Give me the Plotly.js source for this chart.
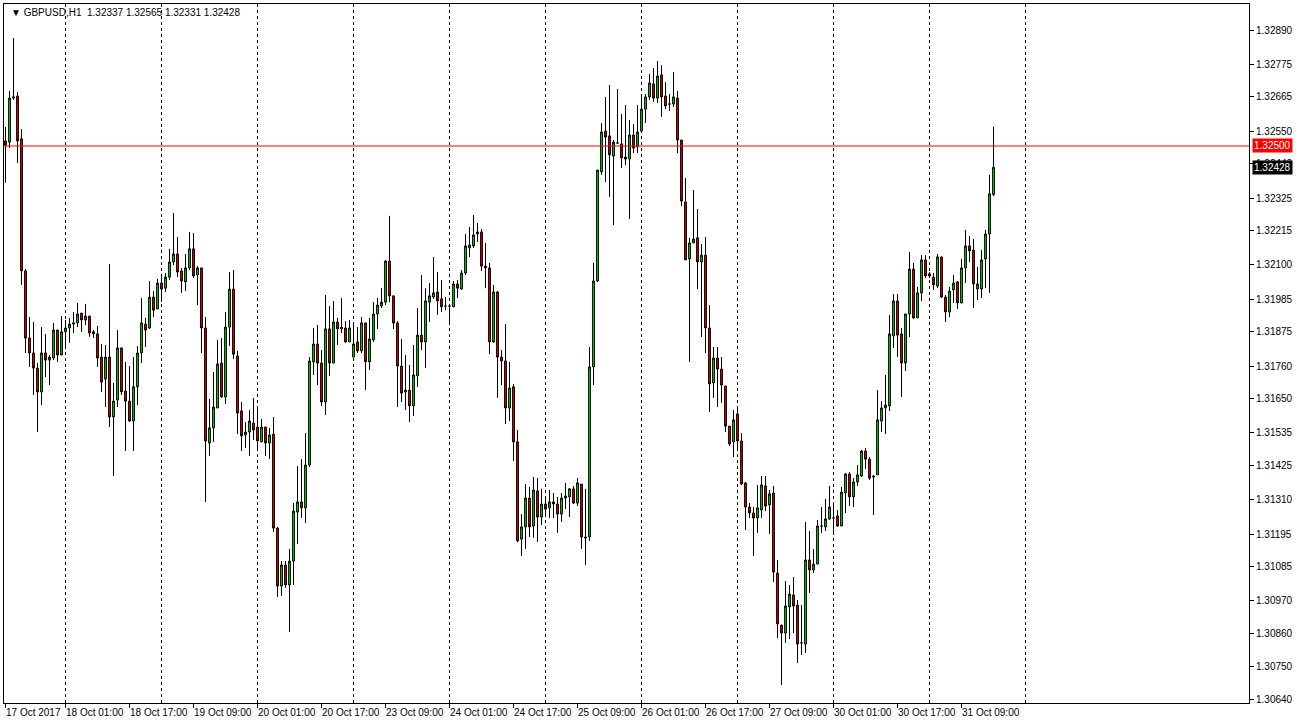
<!DOCTYPE html>
<html><head><meta charset="utf-8">
<script src="https://cdn.plot.ly/plotly-3.0.1.min.js"></script>
<style>html,body{margin:0;padding:0;background:#fff;overflow:hidden}#chart{width:1296px;height:725px}</style>
</head><body><div id="chart"></div>
<script>
const symbol = "GBPUSD,H1";
const open = [1.32517,1.32513,1.32661,1.32668,1.32524,1.32080,1.31854,1.31804,1.31753,1.31673,1.31804,1.31780,1.31787,1.31881,1.31797,1.31875,1.31888,1.31901,1.31905,1.31938,1.31915,1.31928,1.31875,1.31868,1.31790,1.31716,1.31790,1.31589,1.31646,1.31821,1.31676,1.31642,1.31575,1.31690,1.31804,1.31901,1.31888,1.31992,1.31952,1.32039,1.32022,1.32059,1.32110,1.32137,1.32080,1.32043,1.32090,1.32154,1.32066,1.32090,1.31888,1.31501,1.31552,1.31619,1.31770,1.31656,1.31891,1.32019,1.31794,1.31609,1.31528,1.31538,1.31568,1.31555,1.31505,1.31555,1.31501,1.31531,1.31215,1.31020,1.31091,1.31024,1.31104,1.31269,1.31303,1.31283,1.31427,1.31774,1.31834,1.31770,1.31639,1.31885,1.31770,1.31908,1.31885,1.31888,1.31841,1.31790,1.31841,1.31811,1.31905,1.31774,1.31848,1.31935,1.31962,1.31975,1.32113,1.31996,1.31905,1.31760,1.31673,1.31679,1.31626,1.31727,1.31864,1.31841,1.31975,1.31992,1.32009,1.31986,1.31962,1.31962,1.31959,1.32036,1.32019,1.32073,1.32157,1.32164,1.32204,1.32211,1.32096,1.32090,1.31841,1.32009,1.31790,1.31777,1.31619,1.31690,1.31505,1.31178,1.31219,1.31316,1.31222,1.31340,1.31252,1.31296,1.31283,1.31303,1.31296,1.31262,1.31316,1.31320,1.31347,1.31299,1.31363,1.31185,1.31185,1.31757,1.32046,1.32413,1.32550,1.32534,1.32466,1.32510,1.32507,1.32463,1.32456,1.32537,1.32497,1.32550,1.32624,1.32665,1.32709,1.32661,1.32739,1.32668,1.32641,1.32641,1.32661,1.32520,1.32312,1.32120,1.32174,1.32191,1.32110,1.32133,1.31888,1.31703,1.31787,1.31750,1.31693,1.31558,1.31505,1.31599,1.31508,1.31367,1.31286,1.31266,1.31249,1.31276,1.31357,1.31293,1.31333,1.31064,1.30889,1.30862,1.30950,1.30990,1.30956,1.30829,1.30825,1.31108,1.31074,1.31094,1.31222,1.31219,1.31246,1.31249,1.31256,1.31222,1.31333,1.31397,1.31320,1.31370,1.31390,1.31474,1.31447,1.31390,1.31394,1.31575,1.31619,1.31626,1.31861,1.31979,1.31868,1.31770,1.31935,1.32086,1.31922,1.32006,1.32117,1.32070,1.32059,1.32029,1.32127,1.31992,1.31942,1.32016,1.32043,1.31972,1.32090,1.32164,1.32150,1.32019,1.32019,1.32120,1.32204,1.32337];
const high = [1.32564,1.32685,1.32863,1.32682,1.32557,1.32086,1.31925,1.31908,1.31770,1.31891,1.31868,1.31797,1.31905,1.31881,1.31928,1.31915,1.31922,1.31942,1.31972,1.31938,1.31969,1.31928,1.31881,1.31895,1.31834,1.31831,1.32103,1.31703,1.31881,1.31821,1.31774,1.31760,1.31790,1.31827,1.31989,1.31922,1.32046,1.32012,1.32053,1.32070,1.32073,1.32154,1.32275,1.32194,1.32090,1.32137,1.32211,1.32207,1.32096,1.32090,1.31925,1.31649,1.31740,1.31848,1.31854,1.31942,1.32076,1.32083,1.31811,1.31639,1.31572,1.31612,1.31653,1.31626,1.31582,1.31555,1.31552,1.31589,1.31219,1.31104,1.31104,1.31145,1.31299,1.31424,1.31447,1.31535,1.31790,1.31888,1.31898,1.31814,1.31999,1.31962,1.31979,1.31922,1.31989,1.31911,1.31915,1.31908,1.31891,1.31925,1.31905,1.31922,1.31975,1.31989,1.32022,1.32117,1.32265,1.31996,1.31911,1.31851,1.31797,1.31764,1.31831,1.31955,1.32066,1.32022,1.32039,1.32127,1.32076,1.32049,1.31992,1.31969,1.32046,1.32049,1.32083,1.32204,1.32228,1.32268,1.32241,1.32221,1.32174,1.32107,1.32033,1.32012,1.31814,1.31901,1.31774,1.31700,1.31545,1.31262,1.31363,1.31353,1.31387,1.31383,1.31347,1.31323,1.31343,1.31333,1.31320,1.31333,1.31367,1.31350,1.31357,1.31383,1.31363,1.31347,1.31824,1.32107,1.32419,1.32577,1.32665,1.32705,1.32520,1.32692,1.32608,1.32638,1.32587,1.32574,1.32638,1.32672,1.32675,1.32742,1.32762,1.32786,1.32772,1.32715,1.32675,1.32749,1.32685,1.32520,1.32392,1.32191,1.32352,1.32288,1.32170,1.32194,1.31965,1.31824,1.31824,1.31790,1.31693,1.31558,1.31612,1.31626,1.31535,1.31370,1.31299,1.31286,1.31360,1.31390,1.31390,1.31343,1.31357,1.31108,1.30889,1.31037,1.31024,1.31051,1.30973,1.30956,1.31236,1.31205,1.31145,1.31242,1.31286,1.31313,1.31357,1.31299,1.31276,1.31353,1.31400,1.31404,1.31383,1.31427,1.31478,1.31484,1.31454,1.31394,1.31679,1.31642,1.31730,1.31932,1.32002,1.32002,1.31888,1.31935,1.32144,1.32107,1.32026,1.32133,1.32133,1.32076,1.32073,1.32137,1.32127,1.31999,1.32026,1.32066,1.32046,1.32120,1.32218,1.32197,1.32187,1.32093,1.32150,1.32218,1.32403,1.32565];
const low = [1.32376,1.32493,1.32655,1.32443,1.32033,1.31804,1.31757,1.31663,1.31538,1.31629,1.31723,1.31696,1.31780,1.31774,1.31797,1.31821,1.31838,1.31871,1.31891,1.31875,1.31898,1.31858,1.31854,1.31757,1.31673,1.31622,1.31555,1.31390,1.31622,1.31663,1.31474,1.31572,1.31474,1.31629,1.31770,1.31824,1.31885,1.31925,1.31952,1.31975,1.32009,1.32049,1.32100,1.32059,1.32006,1.32012,1.32083,1.32056,1.31965,1.31804,1.31303,1.31458,1.31505,1.31619,1.31653,1.31632,1.31827,1.31784,1.31531,1.31474,1.31484,1.31458,1.31511,1.31474,1.31505,1.31458,1.31447,1.31202,1.30983,1.30987,1.31014,1.30866,1.31024,1.31162,1.31249,1.31232,1.31420,1.31730,1.31696,1.31626,1.31595,1.31727,1.31770,1.31831,1.31871,1.31838,1.31841,1.31790,1.31804,1.31804,1.31679,1.31747,1.31841,1.31885,1.31955,1.31965,1.31975,1.31885,1.31622,1.31639,1.31612,1.31572,1.31592,1.31690,1.31814,1.31753,1.31908,1.31986,1.31932,1.31942,1.31948,1.31901,1.31959,1.31989,1.32016,1.32066,1.32127,1.32157,1.32177,1.32080,1.32022,1.31800,1.31838,1.31653,1.31696,1.31565,1.31575,1.31441,1.31168,1.31121,1.31145,1.31185,1.31182,1.31168,1.31225,1.31252,1.31249,1.31249,1.31199,1.31236,1.31279,1.31252,1.31296,1.31289,1.31145,1.31091,1.31172,1.31696,1.32043,1.32403,1.32379,1.32329,1.32234,1.32507,1.32426,1.32436,1.32254,1.32476,1.32476,1.32544,1.32577,1.32655,1.32648,1.32645,1.32598,1.32624,1.32618,1.32631,1.32476,1.32298,1.32117,1.31774,1.32174,1.32019,1.31858,1.31804,1.31605,1.31653,1.31622,1.31636,1.31538,1.31491,1.31454,1.31474,1.31360,1.31209,1.31249,1.31121,1.31199,1.31249,1.31272,1.31195,1.31034,1.30845,1.30687,1.30829,1.30842,1.30862,1.30761,1.30788,1.30795,1.30997,1.31064,1.31094,1.31199,1.31205,1.31242,1.31192,1.31219,1.31222,1.31266,1.31289,1.31286,1.31357,1.31387,1.31414,1.31377,1.31259,1.31394,1.31538,1.31531,1.31609,1.31821,1.31790,1.31656,1.31743,1.31858,1.31918,1.31922,1.31979,1.32056,1.32056,1.32016,1.32022,1.31989,1.31908,1.31925,1.31972,1.31952,1.31972,1.32039,1.32110,1.31955,1.31982,1.31989,1.32022,1.32006,1.32331];
const close = [1.32503,1.32661,1.32665,1.32517,1.32080,1.31854,1.31804,1.31753,1.31673,1.31804,1.31780,1.31790,1.31881,1.31797,1.31875,1.31888,1.31901,1.31905,1.31935,1.31915,1.31928,1.31871,1.31868,1.31787,1.31706,1.31790,1.31589,1.31642,1.31821,1.31673,1.31642,1.31575,1.31690,1.31804,1.31905,1.31881,1.31992,1.31948,1.32039,1.32019,1.32059,1.32110,1.32137,1.32076,1.32046,1.32090,1.32154,1.32063,1.32090,1.31888,1.31508,1.31552,1.31622,1.31767,1.31656,1.31891,1.32019,1.31800,1.31602,1.31525,1.31538,1.31575,1.31545,1.31508,1.31555,1.31501,1.31528,1.31215,1.31020,1.31091,1.31024,1.31104,1.31272,1.31303,1.31283,1.31427,1.31777,1.31834,1.31770,1.31639,1.31885,1.31770,1.31908,1.31885,1.31891,1.31841,1.31888,1.31834,1.31811,1.31905,1.31774,1.31851,1.31935,1.31965,1.31975,1.32113,1.31996,1.31905,1.31760,1.31669,1.31679,1.31626,1.31730,1.31864,1.31841,1.31979,1.31996,1.32006,1.31979,1.31959,1.31962,1.31962,1.32036,1.32022,1.32073,1.32164,1.32167,1.32201,1.32211,1.32096,1.32090,1.31841,1.32009,1.31790,1.31777,1.31619,1.31686,1.31505,1.31172,1.31219,1.31316,1.31219,1.31343,1.31252,1.31296,1.31279,1.31303,1.31296,1.31262,1.31316,1.31323,1.31347,1.31299,1.31367,1.31185,1.31182,1.31757,1.32046,1.32419,1.32547,1.32530,1.32470,1.32513,1.32510,1.32460,1.32456,1.32537,1.32493,1.32547,1.32624,1.32665,1.32712,1.32661,1.32735,1.32665,1.32635,1.32641,1.32665,1.32520,1.32315,1.32117,1.32174,1.32187,1.32110,1.32133,1.31888,1.31700,1.31787,1.31750,1.31696,1.31558,1.31498,1.31579,1.31508,1.31363,1.31286,1.31266,1.31249,1.31283,1.31360,1.31289,1.31330,1.31067,1.30893,1.30862,1.30953,1.30993,1.30953,1.30825,1.30829,1.31108,1.31074,1.31094,1.31222,1.31222,1.31246,1.31286,1.31249,1.31222,1.31336,1.31397,1.31320,1.31370,1.31394,1.31474,1.31447,1.31383,1.31387,1.31579,1.31619,1.31629,1.31868,1.31979,1.31864,1.31770,1.31935,1.32086,1.31922,1.32006,1.32117,1.32063,1.32063,1.32033,1.32127,1.31992,1.31942,1.32012,1.32039,1.31972,1.32090,1.32164,1.32147,1.32036,1.32036,1.32117,1.32204,1.32339,1.32428];

const timeLabels = ["17 Oct 2017","18 Oct 01:00","18 Oct 17:00","19 Oct 09:00","20 Oct 01:00","20 Oct 17:00","23 Oct 09:00","24 Oct 01:00","24 Oct 17:00","25 Oct 09:00","26 Oct 01:00","26 Oct 17:00","27 Oct 09:00","30 Oct 01:00","30 Oct 17:00","31 Oct 09:00"];
const labelBars = [0,15,31,47,63,79,95,111,127,143,159,175,191,207,223,239];
const separatorBars = [15,39,63,87,111,135,159,183,207,231,255];
const priceTicks = [1.32890,1.32775,1.32665,1.32550,1.32440,1.32325,1.32215,1.32100,1.31985,1.31875,1.31760,1.31650,1.31535,1.31425,1.31310,1.31195,1.31085,1.30970,1.30860,1.30750,1.30640];
const levelLine = 1.32500;

const FONT = "Liberation Sans, Arial, sans-serif";
const bars = open.map((_, i) => i);
const xRange = [-0.375, 310.875];
const last = open.length - 1;

const candles = {
  type: 'candlestick', x: bars, open: open, high: high, low: low, close: close,
  increasing: {line: {color: '#000000', width: 1}, fillcolor: '#00DD00'},
  decreasing: {line: {color: '#000000', width: 1}, fillcolor: '#E60000'},
  whiskerwidth: 0, hoverinfo: 'skip', xaxis: 'x', yaxis: 'y'
};
const labelAxisTrace = {type: 'scatter', x: [], y: [], xaxis: 'x2', yaxis: 'y', hoverinfo: 'skip', showlegend: false};

const fmt = v => v.toFixed(5);
const header = '\u25BC ' + symbol + '\u00a0\u00a0' + [open[last], high[last], low[last], close[last]].map(fmt).join(' ');

const layout = {
  width: 1296, height: 725,
  margin: {l: 4, r: 47, t: 4, b: 22, pad: 0},
  paper_bgcolor: '#ffffff', plot_bgcolor: '#ffffff',
  showlegend: false, hovermode: false, dragmode: false,
  boxgap: 0.35,
  font: {family: FONT, size: 10, color: '#000000'},
  xaxis: {
    range: xRange, fixedrange: true, rangeslider: {visible: false},
    tickmode: 'array', tickvals: separatorBars, showticklabels: false, ticks: '',
    showgrid: true, gridcolor: '#000000', gridwidth: 1, griddash: '3px,3px',
    showline: true, mirror: true, linecolor: '#000000', linewidth: 1, zeroline: false
  },
  xaxis2: {
    overlaying: 'x', anchor: 'y', side: 'bottom', range: xRange, fixedrange: true,
    tickmode: 'array', tickvals: labelBars, ticktext: timeLabels, tickangle: 0,
    ticks: 'outside', ticklen: 4, tickcolor: '#000000', tickwidth: 1,
    ticklabelposition: 'outside right',
    showgrid: false, showline: false, zeroline: false,
    tickfont: {family: FONT, size: 10, color: '#000000'}
  },
  yaxis: {
    side: 'right', range: [1.306268, 1.329775], fixedrange: true,
    tickmode: 'array', tickvals: priceTicks, ticktext: priceTicks.map(fmt),
    ticks: 'outside', ticklen: 4, tickcolor: '#000000', tickwidth: 1,
    showgrid: false, showline: true, mirror: true, linecolor: '#000000', linewidth: 1, zeroline: false,
    tickfont: {family: FONT, size: 10, color: '#000000'}
  },
  shapes: [
    {type: 'line', xref: 'paper', x0: 0, x1: 1, yref: 'y', y0: levelLine, y1: levelLine, line: {color: '#FF0000', width: 1}}
  ],
  annotations: [
    {xref: 'paper', yref: 'paper', x: 0, y: 1, xanchor: 'left', yanchor: 'top', xshift: 5, yshift: -1,
     text: header, showarrow: false, font: {family: FONT, size: 10, color: '#000000'}},
    {xref: 'paper', yref: 'y', x: 1, y: levelLine, xanchor: 'left', yanchor: 'middle', xshift: 3,
     text: fmt(levelLine), showarrow: false, bgcolor: '#FF0000', borderpad: 1,
     font: {family: FONT, size: 10, color: '#ffffff'}},
    {xref: 'paper', yref: 'y', x: 1, y: close[last], xanchor: 'left', yanchor: 'middle', xshift: 3,
     text: fmt(close[last]), showarrow: false, bgcolor: '#000000', borderpad: 1,
     font: {family: FONT, size: 10, color: '#ffffff'}}
  ]
};

Plotly.newPlot('chart', [candles, labelAxisTrace], layout, {staticPlot: true, displayModeBar: false});
</script>
</body></html>
